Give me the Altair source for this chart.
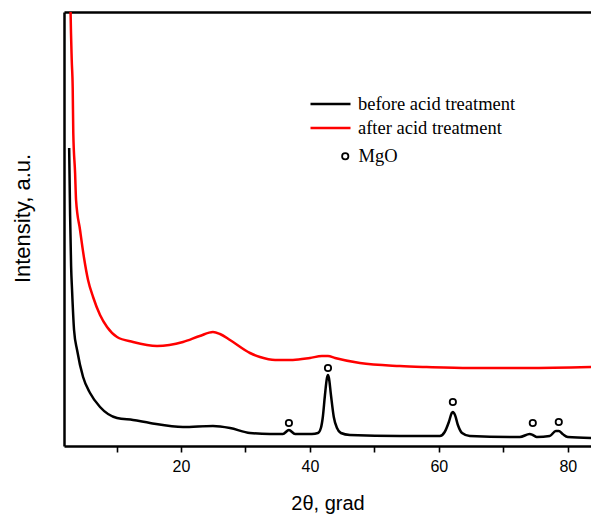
import altair as alt
import pandas as pd

# ---- data (2theta in degrees, intensity in arbitrary units) ----
before_x = [2.65, 2.8, 2.95, 3.1, 3.41, 3.88, 4.81, 5.89, 7.44, 10.08, 12.56, 15.19, 20.31,
            24.96, 27.6, 30.7, 33.8, 35.8, 36.74, 37.7, 40.3, 41.24, 41.7, 42.0, 42.33, 42.64,
            42.8, 42.95, 43.26, 43.7, 44.2, 44.8, 46.2, 53.95, 60.15, 60.9, 61.55, 62.0, 62.17,
            62.5, 62.95, 63.6, 64.8, 72.56, 74.1, 74.57, 75.2, 77.2, 78.14, 78.6, 79.2, 80.0, 83.6]
before_y = [298, 230, 180, 156, 116, 96, 69, 53, 39, 28, 26, 23, 19,
            20, 18, 13, 12, 12, 16, 12, 12, 13, 18, 29, 51, 68,
            71, 68, 51, 29, 18, 13, 11, 10, 10, 14, 24, 33, 34,
            31, 21, 13, 10, 9, 12, 11, 9, 10, 15, 15, 12, 9, 8]

after_x = [2.7, 2.87, 3.05, 3.2, 3.29, 3.57, 3.72, 4.34, 4.96, 5.58, 6.36, 7.44, 8.53, 10.08,
           12.56, 16.28, 20.31, 22.9, 24.96, 26.05, 27.6, 30.7, 32.25, 34.6, 37.36, 40.0,
           41.86, 42.8, 43.9, 47.75, 53.95, 58.1, 64.8, 73.64, 83.6]
after_y = [520, 434, 386, 358, 313, 273, 246, 216, 188, 166, 149, 131, 119, 109,
           104, 100, 104, 110, 114, 112, 106, 93, 89, 86, 86, 88,
           90, 90, 88, 83, 80, 79, 78, 78, 79]

mgo_x = [36.74, 42.8, 62.17, 74.57, 78.6]
mgo_y = [23, 78, 44, 23, 24]

series_names = ["before acid treatment", "after acid treatment"]
series_colors = ["black", "red"]

lines_df = pd.concat([
    pd.DataFrame({"two_theta": before_x, "intensity": before_y, "series": series_names[0]}),
    pd.DataFrame({"two_theta": after_x, "intensity": after_y, "series": series_names[1]}),
])
mgo_df = pd.DataFrame({"two_theta": mgo_x, "intensity": mgo_y, "phase": "MgO"})

x_scale = alt.Scale(domain=[1.85, 83.6], nice=False, zero=False)
y_scale = alt.Scale(domain=[0, 434], nice=False, zero=False)

y_axis = alt.Axis(
    title="Intensity, a.u.", ticks=False, labels=False, grid=False,
    domain=True, domainColor="black", domainWidth=2.5,
    titleFont="Liberation Sans", titleFontSize=22, titleFontWeight="normal",
    titleColor="black", titleAngle=270, titleAlign="center", titleBaseline="middle",
    titleX=-42, titleY=206,
)

lines = alt.Chart(lines_df).mark_line(strokeWidth=2.5, interpolate="monotone", clip=True).encode(
    x=alt.X("two_theta:Q", scale=x_scale, axis=alt.Axis(
        title="2θ, grad", values=[10, 20, 30, 40, 50, 60, 70, 80],
        labelExpr="datum.value % 20 == 0 ? datum.label : ''",
        grid=False, domainColor="black", domainWidth=2.5,
        tickColor="black", tickSize=6, tickWidth=1.6,
        labelFont="Liberation Sans", labelFontSize=16, labelColor="black", labelPadding=6,
        titleFont="Liberation Sans", titleFontSize=20, titleFontWeight="normal",
        titleColor="black", titlePadding=19,
    )),
    y=alt.Y("intensity:Q", scale=y_scale, axis=y_axis),
    color=alt.Color("series:N", scale=alt.Scale(domain=series_names, range=series_colors),
                    legend=alt.Legend(
                        title=None, orient="none", legendX=245, legendY=83,
                        symbolType="stroke", symbolSize=1600, symbolStrokeWidth=2.5,
                        clipHeight=18,
                        labelFont="Liberation Serif", labelFontSize=18.5, labelColor="black",
                        labelOffset=6, rowPadding=5,
                    )),
    order=alt.Order("series:N"),
)

points = alt.Chart(mgo_df).mark_point(shape="circle", filled=False, color="black",
                                      strokeWidth=1.8, size=40, opacity=1).encode(
    x=alt.X("two_theta:Q", scale=x_scale, axis=alt.Axis(
        orient="top", title=None, labels=False, ticks=False, grid=False,
        domainColor="black", domainWidth=2.5)),
    y=alt.Y("intensity:Q", scale=y_scale, axis=y_axis),
    shape=alt.Shape("phase:N", scale=alt.Scale(domain=["MgO"], range=["circle"]),
                    legend=alt.Legend(
                        title=None, orient="none", legendX=272, legendY=135,
                        symbolSize=40, symbolStrokeColor="black", symbolFillColor="white",
                        symbolStrokeWidth=1.8, symbolOpacity=1,
                        labelFont="Liberation Serif", labelFontSize=18.5, labelColor="black",
                        labelOffset=4,
                    )),
)

chart = alt.layer(lines, points).resolve_axis(x="independent").properties(
    width=527, height=434,
    autosize=alt.AutoSizeParams(type="none"),
    padding={"left": 64, "top": 12, "right": 0, "bottom": 69},
    background="white",
).configure_view(stroke=None)

chart.save("out.html", embed_options={"renderer": "svg", "actions": False})
